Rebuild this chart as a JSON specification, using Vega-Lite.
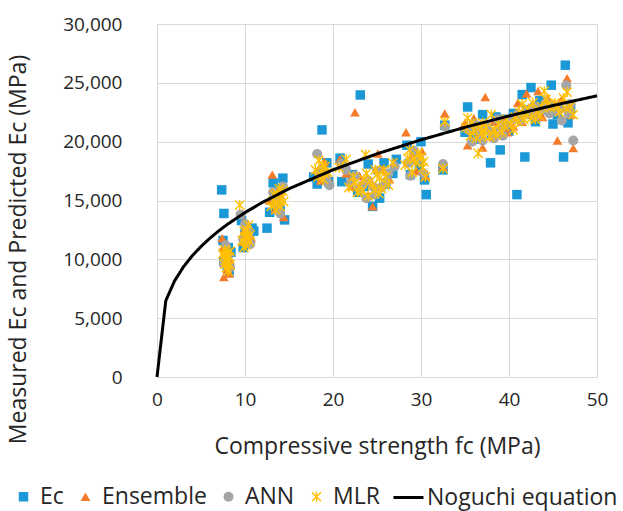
{
  "$schema": "https://vega.github.io/schema/vega-lite/v6.json",
  "width": 440,
  "height": 353,
  "autosize": "none",
  "padding": {"left": 157, "top": 24, "right": 26, "bottom": 134},
  "background": "white",
  "config": {
    "view": {"stroke": null},
    "font": "Open Sans",
    "axis": {
      "grid": true, "gridColor": "#d9d9d9", "gridWidth": 1, "domain": false, "ticks": false, "labelFlush": false,
      "labelFont": "Open Sans", "labelFontSize": 19, "labelColor": "#262626",
      "titleFont": "Open Sans", "titleFontSize": 23, "titleFontWeight": "normal", "titleColor": "#262626"
    },
    "legend": {
      "labelFont": "Open Sans", "labelFontSize": 23, "labelColor": "#262626", "labelLimit": 400
    }
  },
  "layer": [
    {
      "data": {"values": [
        {"s":"Ec","fc":7.35,"E":15900},{"s":"Ec","fc":7.6,"E":13900},{"s":"Ec","fc":7.5,"E":11600},{"s":"Ec","fc":7.8,"E":10200},{"s":"Ec","fc":8.0,"E":9400},{"s":"Ec","fc":8.2,"E":8900},{"s":"Ec","fc":7.6,"E":9800},{"s":"Ec","fc":8.4,"E":10600},{"s":"Ec","fc":8.1,"E":11000},
        {"s":"Ec","fc":9.6,"E":13300},{"s":"Ec","fc":10.0,"E":12200},{"s":"Ec","fc":10.8,"E":12650},{"s":"Ec","fc":10.3,"E":11500},{"s":"Ec","fc":9.8,"E":11000},{"s":"Ec","fc":10.5,"E":12000},{"s":"Ec","fc":11.0,"E":12400},
        {"s":"Ec","fc":12.5,"E":12650},{"s":"Ec","fc":13.2,"E":16500},{"s":"Ec","fc":14.3,"E":16900},{"s":"Ec","fc":14.5,"E":13350},{"s":"Ec","fc":13.5,"E":15000},{"s":"Ec","fc":14.0,"E":14200},{"s":"Ec","fc":13.8,"E":15700},{"s":"Ec","fc":12.8,"E":14000},
        {"s":"Ec","fc":18.75,"E":21000},{"s":"Ec","fc":18.2,"E":16400},{"s":"Ec","fc":18.8,"E":17500},{"s":"Ec","fc":19.3,"E":18200},{"s":"Ec","fc":17.8,"E":17000},{"s":"Ec","fc":19.5,"E":16600},
        {"s":"Ec","fc":23.1,"E":23970},{"s":"Ec","fc":20.8,"E":18600},{"s":"Ec","fc":21.0,"E":16600},{"s":"Ec","fc":22.2,"E":17200},{"s":"Ec","fc":23.5,"E":16200},{"s":"Ec","fc":24.5,"E":14500},{"s":"Ec","fc":25.3,"E":15200},{"s":"Ec","fc":26.0,"E":16400},{"s":"Ec","fc":26.8,"E":17300},{"s":"Ec","fc":24.0,"E":18100},{"s":"Ec","fc":22.8,"E":15700},{"s":"Ec","fc":25.8,"E":18200},{"s":"Ec","fc":27.2,"E":18500},
        {"s":"Ec","fc":28.4,"E":19700},{"s":"Ec","fc":29.3,"E":18500},{"s":"Ec","fc":30.0,"E":20000},{"s":"Ec","fc":30.6,"E":15500},{"s":"Ec","fc":30.4,"E":16750},{"s":"Ec","fc":28.8,"E":17200},{"s":"Ec","fc":29.8,"E":17900},
        {"s":"Ec","fc":32.5,"E":17600},{"s":"Ec","fc":32.7,"E":21400},
        {"s":"Ec","fc":35.3,"E":22950},{"s":"Ec","fc":35.0,"E":20800},{"s":"Ec","fc":36.5,"E":21300},{"s":"Ec","fc":37.9,"E":18200},{"s":"Ec","fc":38.5,"E":22100},{"s":"Ec","fc":39.4,"E":21900},{"s":"Ec","fc":36.0,"E":20200},{"s":"Ec","fc":37.0,"E":22300},{"s":"Ec","fc":39.0,"E":19300},{"s":"Ec","fc":38.0,"E":20700},
        {"s":"Ec","fc":40.9,"E":15500},{"s":"Ec","fc":41.8,"E":18700},{"s":"Ec","fc":46.4,"E":26500},{"s":"Ec","fc":46.2,"E":18700},{"s":"Ec","fc":40.5,"E":22400},{"s":"Ec","fc":41.5,"E":24000},{"s":"Ec","fc":42.5,"E":24600},{"s":"Ec","fc":43.5,"E":23500},{"s":"Ec","fc":44.8,"E":24800},{"s":"Ec","fc":45.5,"E":22300},{"s":"Ec","fc":46.7,"E":21600},{"s":"Ec","fc":42.0,"E":22700},{"s":"Ec","fc":43.0,"E":21700},{"s":"Ec","fc":44.0,"E":22700},{"s":"Ec","fc":40.0,"E":20900},{"s":"Ec","fc":47.0,"E":22800},{"s":"Ec","fc":45.0,"E":21500},

        {"s":"Ensemble","fc":7.4,"E":11800},{"s":"Ensemble","fc":7.6,"E":8500},{"s":"Ensemble","fc":8.0,"E":9200},{"s":"Ensemble","fc":7.8,"E":10500},{"s":"Ensemble","fc":8.3,"E":9900},{"s":"Ensemble","fc":7.5,"E":11000},{"s":"Ensemble","fc":8.2,"E":8800},
        {"s":"Ensemble","fc":9.8,"E":11500},{"s":"Ensemble","fc":10.4,"E":11300},{"s":"Ensemble","fc":10.0,"E":12600},{"s":"Ensemble","fc":10.7,"E":11800},{"s":"Ensemble","fc":9.5,"E":13800},
        {"s":"Ensemble","fc":13.1,"E":17200},{"s":"Ensemble","fc":14.4,"E":13600},{"s":"Ensemble","fc":13.5,"E":14300},{"s":"Ensemble","fc":14.0,"E":15500},{"s":"Ensemble","fc":12.8,"E":15000},{"s":"Ensemble","fc":14.2,"E":16300},
        {"s":"Ensemble","fc":18.3,"E":17600},{"s":"Ensemble","fc":19.0,"E":18300},{"s":"Ensemble","fc":18.6,"E":16700},{"s":"Ensemble","fc":19.4,"E":17000},
        {"s":"Ensemble","fc":20.8,"E":18500},{"s":"Ensemble","fc":22.5,"E":22500},{"s":"Ensemble","fc":25.1,"E":19000},{"s":"Ensemble","fc":24.5,"E":14500},{"s":"Ensemble","fc":23.0,"E":17100},{"s":"Ensemble","fc":22.0,"E":16200},{"s":"Ensemble","fc":26.4,"E":16800},{"s":"Ensemble","fc":24.0,"E":15500},{"s":"Ensemble","fc":25.7,"E":17700},{"s":"Ensemble","fc":21.5,"E":17300},{"s":"Ensemble","fc":27.0,"E":18200},
        {"s":"Ensemble","fc":28.3,"E":20800},{"s":"Ensemble","fc":29.0,"E":18700},{"s":"Ensemble","fc":30.1,"E":19200},{"s":"Ensemble","fc":30.5,"E":17100},{"s":"Ensemble","fc":29.5,"E":17500},
        {"s":"Ensemble","fc":32.7,"E":22400},{"s":"Ensemble","fc":32.5,"E":17900},
        {"s":"Ensemble","fc":37.3,"E":23800},{"s":"Ensemble","fc":35.3,"E":19700},{"s":"Ensemble","fc":36.0,"E":22000},{"s":"Ensemble","fc":37.0,"E":19500},{"s":"Ensemble","fc":38.3,"E":21700},{"s":"Ensemble","fc":39.3,"E":22000},{"s":"Ensemble","fc":36.6,"E":20500},{"s":"Ensemble","fc":39.8,"E":20800},{"s":"Ensemble","fc":35.0,"E":21600},
        {"s":"Ensemble","fc":41.0,"E":23300},{"s":"Ensemble","fc":42.0,"E":24100},{"s":"Ensemble","fc":43.3,"E":24300},{"s":"Ensemble","fc":44.4,"E":23700},{"s":"Ensemble","fc":45.5,"E":20100},{"s":"Ensemble","fc":46.6,"E":25400},{"s":"Ensemble","fc":47.3,"E":19450},{"s":"Ensemble","fc":40.5,"E":21300},{"s":"Ensemble","fc":42.8,"E":22600},{"s":"Ensemble","fc":45.0,"E":22900},{"s":"Ensemble","fc":46.0,"E":23600},{"s":"Ensemble","fc":41.5,"E":21700},{"s":"Ensemble","fc":43.8,"E":22100},{"s":"Ensemble","fc":47.0,"E":22300},

        {"s":"ANN","fc":7.8,"E":11200},{"s":"ANN","fc":8.1,"E":10300},{"s":"ANN","fc":7.6,"E":9600},{"s":"ANN","fc":8.3,"E":9300},{"s":"ANN","fc":7.9,"E":10000},
        {"s":"ANN","fc":9.5,"E":13800},{"s":"ANN","fc":10.0,"E":13000},{"s":"ANN","fc":10.4,"E":12200},{"s":"ANN","fc":9.8,"E":11700},{"s":"ANN","fc":10.6,"E":11300},{"s":"ANN","fc":10.2,"E":12700},
        {"s":"ANN","fc":13.2,"E":15700},{"s":"ANN","fc":13.8,"E":14600},{"s":"ANN","fc":14.3,"E":16200},{"s":"ANN","fc":13.5,"E":15000},{"s":"ANN","fc":14.0,"E":13900},
        {"s":"ANN","fc":18.2,"E":18950},{"s":"ANN","fc":18.8,"E":17700},{"s":"ANN","fc":19.2,"E":16800},{"s":"ANN","fc":18.5,"E":17200},{"s":"ANN","fc":19.6,"E":16300},
        {"s":"ANN","fc":21.0,"E":18100},{"s":"ANN","fc":22.5,"E":17100},{"s":"ANN","fc":23.3,"E":16300},{"s":"ANN","fc":24.0,"E":16700},{"s":"ANN","fc":24.8,"E":15500},{"s":"ANN","fc":25.5,"E":16100},{"s":"ANN","fc":26.3,"E":17300},{"s":"ANN","fc":27.0,"E":17900},{"s":"ANN","fc":23.8,"E":15200},{"s":"ANN","fc":22.0,"E":16500},{"s":"ANN","fc":25.0,"E":17500},
        {"s":"ANN","fc":23.0,"E":16000},{"s":"ANN","fc":24.5,"E":16200},{"s":"ANN","fc":26.0,"E":16600},{"s":"ANN","fc":21.5,"E":17600},
        {"s":"ANN","fc":28.5,"E":18200},{"s":"ANN","fc":29.2,"E":19200},{"s":"ANN","fc":29.8,"E":18600},{"s":"ANN","fc":30.3,"E":17300},{"s":"ANN","fc":28.8,"E":17100},
        {"s":"ANN","fc":32.5,"E":18100},{"s":"ANN","fc":32.7,"E":21300},
        {"s":"ANN","fc":35.4,"E":21000},{"s":"ANN","fc":36.0,"E":21500},{"s":"ANN","fc":36.8,"E":20800},{"s":"ANN","fc":37.5,"E":21300},{"s":"ANN","fc":38.3,"E":20300},{"s":"ANN","fc":39.0,"E":21000},{"s":"ANN","fc":39.6,"E":21400},{"s":"ANN","fc":35.8,"E":20000},{"s":"ANN","fc":37.0,"E":20100},{"s":"ANN","fc":38.7,"E":21900},
        {"s":"ANN","fc":36.3,"E":21000},{"s":"ANN","fc":38.0,"E":20800},{"s":"ANN","fc":39.3,"E":20500},
        {"s":"ANN","fc":40.5,"E":22000},{"s":"ANN","fc":41.3,"E":21800},{"s":"ANN","fc":42.0,"E":22600},{"s":"ANN","fc":42.8,"E":23000},{"s":"ANN","fc":43.5,"E":22700},{"s":"ANN","fc":44.2,"E":23300},{"s":"ANN","fc":45.0,"E":23100},{"s":"ANN","fc":45.8,"E":22800},{"s":"ANN","fc":46.5,"E":24800},{"s":"ANN","fc":47.3,"E":20100},{"s":"ANN","fc":41.0,"E":22300},{"s":"ANN","fc":43.0,"E":22200},{"s":"ANN","fc":44.6,"E":22400},{"s":"ANN","fc":46.0,"E":21800},{"s":"ANN","fc":47.0,"E":23200},
        {"s":"ANN","fc":42.5,"E":22300},{"s":"ANN","fc":44.0,"E":22800},{"s":"ANN","fc":45.5,"E":22600},{"s":"ANN","fc":46.8,"E":22400},

        {"s":"MLR","fc":7.7,"E":10800},{"s":"MLR","fc":8.0,"E":9700},{"s":"MLR","fc":8.2,"E":10200},{"s":"MLR","fc":7.9,"E":9300},{"s":"MLR","fc":7.6,"E":10300},{"s":"MLR","fc":8.3,"E":10700},{"s":"MLR","fc":8.1,"E":9000},{"s":"MLR","fc":7.8,"E":9900},
        {"s":"MLR","fc":7.5,"E":10500},{"s":"MLR","fc":8.0,"E":10400},{"s":"MLR","fc":8.3,"E":9500},{"s":"MLR","fc":7.7,"E":9600},
        {"s":"MLR","fc":9.4,"E":14600},{"s":"MLR","fc":9.9,"E":12400},{"s":"MLR","fc":10.3,"E":11800},{"s":"MLR","fc":10.1,"E":11200},{"s":"MLR","fc":10.6,"E":12100},{"s":"MLR","fc":9.7,"E":11600},{"s":"MLR","fc":10.4,"E":12900},
        {"s":"MLR","fc":10.0,"E":11900},{"s":"MLR","fc":10.5,"E":11500},{"s":"MLR","fc":10.2,"E":12500},{"s":"MLR","fc":9.9,"E":11000},
        {"s":"MLR","fc":13.3,"E":15500},{"s":"MLR","fc":13.7,"E":14800},{"s":"MLR","fc":14.1,"E":15200},{"s":"MLR","fc":13.5,"E":14200},{"s":"MLR","fc":14.3,"E":15800},{"s":"MLR","fc":13.0,"E":14500},{"s":"MLR","fc":13.9,"E":16000},
        {"s":"MLR","fc":13.6,"E":15600},{"s":"MLR","fc":14.0,"E":14500},{"s":"MLR","fc":13.2,"E":15000},{"s":"MLR","fc":14.4,"E":14900},
        {"s":"MLR","fc":18.0,"E":17600},{"s":"MLR","fc":18.4,"E":18400},{"s":"MLR","fc":18.9,"E":16800},{"s":"MLR","fc":19.1,"E":17900},{"s":"MLR","fc":18.6,"E":17200},{"s":"MLR","fc":19.4,"E":17400},
        {"s":"MLR","fc":18.3,"E":17000},{"s":"MLR","fc":18.8,"E":18000},{"s":"MLR","fc":19.0,"E":17300},
        {"s":"MLR","fc":20.7,"E":17800},{"s":"MLR","fc":21.5,"E":18500},{"s":"MLR","fc":22.3,"E":17000},{"s":"MLR","fc":23.0,"E":16200},{"s":"MLR","fc":23.7,"E":18900},{"s":"MLR","fc":24.2,"E":16600},{"s":"MLR","fc":24.8,"E":15900},{"s":"MLR","fc":25.3,"E":16900},{"s":"MLR","fc":25.8,"E":17600},{"s":"MLR","fc":26.3,"E":16300},{"s":"MLR","fc":26.8,"E":18200},{"s":"MLR","fc":22.8,"E":15700},{"s":"MLR","fc":24.0,"E":15400},{"s":"MLR","fc":25.0,"E":17200},{"s":"MLR","fc":23.5,"E":16800},{"s":"MLR","fc":21.8,"E":16100},
        {"s":"MLR","fc":24.5,"E":16300},{"s":"MLR","fc":25.5,"E":16000},{"s":"MLR","fc":23.8,"E":17300},{"s":"MLR","fc":24.8,"E":17600},{"s":"MLR","fc":22.5,"E":16500},{"s":"MLR","fc":26.0,"E":17000},{"s":"MLR","fc":25.2,"E":15600},{"s":"MLR","fc":23.3,"E":15800},
        {"s":"MLR","fc":28.2,"E":18000},{"s":"MLR","fc":28.7,"E":19300},{"s":"MLR","fc":29.2,"E":18500},{"s":"MLR","fc":29.7,"E":19000},{"s":"MLR","fc":30.2,"E":17800},{"s":"MLR","fc":30.0,"E":18700},{"s":"MLR","fc":29.0,"E":17400},{"s":"MLR","fc":30.5,"E":17000},
        {"s":"MLR","fc":29.4,"E":18200},{"s":"MLR","fc":28.5,"E":18600},{"s":"MLR","fc":30.3,"E":18300},
        {"s":"MLR","fc":32.5,"E":17700},{"s":"MLR","fc":32.7,"E":21700},
        {"s":"MLR","fc":35.1,"E":21200},{"s":"MLR","fc":35.6,"E":20500},{"s":"MLR","fc":36.0,"E":21000},{"s":"MLR","fc":36.5,"E":19000},{"s":"MLR","fc":36.9,"E":20700},{"s":"MLR","fc":37.4,"E":21200},{"s":"MLR","fc":37.8,"E":20400},{"s":"MLR","fc":38.3,"E":21000},{"s":"MLR","fc":38.8,"E":21500},{"s":"MLR","fc":39.2,"E":20800},{"s":"MLR","fc":39.7,"E":21900},{"s":"MLR","fc":35.3,"E":22000},{"s":"MLR","fc":37.0,"E":21600},{"s":"MLR","fc":38.0,"E":22300},
        {"s":"MLR","fc":36.3,"E":20300},{"s":"MLR","fc":37.2,"E":20500},{"s":"MLR","fc":38.5,"E":20600},{"s":"MLR","fc":39.5,"E":21300},{"s":"MLR","fc":35.8,"E":21600},{"s":"MLR","fc":36.8,"E":21300},
        {"s":"MLR","fc":40.2,"E":21500},{"s":"MLR","fc":40.7,"E":22100},{"s":"MLR","fc":41.2,"E":22500},{"s":"MLR","fc":41.7,"E":21900},{"s":"MLR","fc":42.2,"E":22800},{"s":"MLR","fc":42.7,"E":23300},{"s":"MLR","fc":43.2,"E":22600},{"s":"MLR","fc":43.7,"E":23000},{"s":"MLR","fc":44.2,"E":23600},{"s":"MLR","fc":44.7,"E":22900},{"s":"MLR","fc":45.2,"E":23300},{"s":"MLR","fc":45.7,"E":22500},{"s":"MLR","fc":46.2,"E":23700},{"s":"MLR","fc":46.6,"E":24200},{"s":"MLR","fc":47.3,"E":22300},{"s":"MLR","fc":44.0,"E":24300},{"s":"MLR","fc":41.5,"E":23200},{"s":"MLR","fc":43.0,"E":21900},
        {"s":"MLR","fc":40.5,"E":21000},{"s":"MLR","fc":41.0,"E":21700},{"s":"MLR","fc":42.0,"E":22300},{"s":"MLR","fc":43.5,"E":22200},{"s":"MLR","fc":44.5,"E":23200},{"s":"MLR","fc":45.5,"E":23000},{"s":"MLR","fc":46.5,"E":22800},{"s":"MLR","fc":47.0,"E":23000},{"s":"MLR","fc":42.5,"E":22000}
      ]},
      "mark": {"type": "point", "filled": true, "opacity": 1},
      "encoding": {
        "x": {"field": "fc", "type": "quantitative",
              "scale": {"domain": [0, 50], "nice": false},
              "axis": {"values": [0, 10, 20, 30, 40, 50], "title": "Compressive strength fc (MPa)", "labelPadding": 13, "titlePadding": 26}},
        "y": {"field": "E", "type": "quantitative",
              "scale": {"domain": [0, 30000], "nice": false},
              "axis": {"values": [0, 5000, 10000, 15000, 20000, 25000, 30000], "format": ",d", "title": "Measured Ec and Predicted Ec (MPa)", "labelPadding": 35, "titleX": -139, "titleY": 225, "titleAngle": 270, "titleAlign": "center", "titleBaseline": "middle"}},
        "color": {"field": "s", "type": "nominal",
                  "scale": {"domain": ["Ec", "Ensemble", "ANN", "MLR"], "range": ["#1b98d6", "#f47b2a", "#a5a5a5", "#ffc000"]},
                  "legend": {"title": null, "orient": "none", "legendX": -145, "legendY": 461, "direction": "horizontal", "symbolSize": 80, "columnPadding": 10, "labelOffset": 5}},
        "shape": {"field": "s", "type": "nominal",
                  "scale": {"domain": ["Ec", "Ensemble", "ANN", "MLR"], "range": ["square", "triangle-up", "circle", "M-1,-0.8L-0.8,-1L1,0.8L0.8,1ZM0.8,-1L1,-0.8L-0.8,1L-1,0.8ZM-0.13,-1L0.13,-1L0.13,1L-0.13,1Z"]},
                  "legend": {"title": null, "orient": "none", "legendX": -145, "legendY": 461, "direction": "horizontal", "symbolSize": 80, "columnPadding": 10, "labelOffset": 5}},
        "size": {"field": "s", "type": "nominal",
                 "scale": {"domain": ["Ec", "Ensemble", "ANN", "MLR"], "range": [90, 105, 100, 140]},
                 "legend": null}
      }
    },
    {
      "data": {"values": [
        {"name":"Noguchi equation","fc":0,"E":0},{"name":"Noguchi equation","fc":1,"E":6487},{"name":"Noguchi equation","fc":2,"E":8173},{"name":"Noguchi equation","fc":3,"E":9356},{"name":"Noguchi equation","fc":4,"E":10297},{"name":"Noguchi equation","fc":5,"E":11093},{"name":"Noguchi equation","fc":6,"E":11787},{"name":"Noguchi equation","fc":7,"E":12410},{"name":"Noguchi equation","fc":8,"E":12974},{"name":"Noguchi equation","fc":10,"E":13976},{"name":"Noguchi equation","fc":12,"E":14849},{"name":"Noguchi equation","fc":15,"E":15998},{"name":"Noguchi equation","fc":20,"E":17607},{"name":"Noguchi equation","fc":25,"E":18968},{"name":"Noguchi equation","fc":30,"E":20156},{"name":"Noguchi equation","fc":35,"E":21219},{"name":"Noguchi equation","fc":40,"E":22184},{"name":"Noguchi equation","fc":45,"E":23073},{"name":"Noguchi equation","fc":50,"E":23898}
      ]},
      "mark": {"type": "line", "strokeWidth": 3, "color": "#000000"},
      "encoding": {
        "x": {"field": "fc", "type": "quantitative"},
        "y": {"field": "E", "type": "quantitative"},
        "strokeDash": {"field": "name", "type": "nominal",
                  "scale": {"domain": ["Noguchi equation"], "range": [[1, 0]]},
                  "legend": {"title": null, "orient": "none", "legendX": 235, "legendY": 457, "direction": "horizontal", "symbolType": "stroke", "symbolSize": 900, "symbolStrokeWidth": 3, "symbolStrokeColor": "#000000", "labelOffset": 2}}
      }
    }
  ]
}
